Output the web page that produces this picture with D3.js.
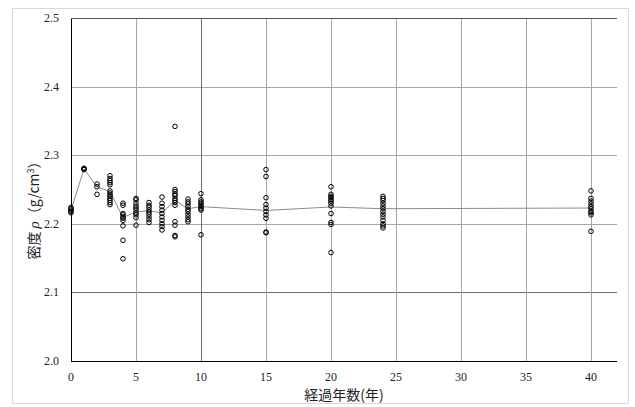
<!DOCTYPE html>
<html>
<head>
<meta charset="utf-8">
<script src="https://cdn.jsdelivr.net/npm/d3@7"></script>
<style>
  body { margin: 0; background: #fff; }
  .tick-label { font-family: "Liberation Serif", serif; font-size: 12px; fill: #222; }
  .axis-title { font-family: "Noto Sans CJK JP", sans-serif; font-size: 14px; fill: #222; }
</style>
</head>
<body>
<svg id="chart" width="635" height="407"></svg>
<script>
// Data
const groupYears = [0, 1, 2, 3, 4, 5, 6, 7, 8, 9, 10, 15, 20, 24, 40];
const groupDensities = [
  [2.224, 2.222, 2.220, 2.218, 2.216],
  [2.281, 2.280, 2.279],
  [2.258, 2.254, 2.243],
  [2.270, 2.266, 2.263, 2.260, 2.257, 2.248, 2.245, 2.242, 2.240, 2.237, 2.234, 2.231, 2.228],
  [2.230, 2.227, 2.215, 2.213, 2.210, 2.208, 2.205, 2.197, 2.176, 2.149],
  [2.237, 2.235, 2.230, 2.226, 2.223, 2.220, 2.216, 2.213, 2.209, 2.198],
  [2.231, 2.227, 2.224, 2.220, 2.217, 2.214, 2.210, 2.206, 2.202],
  [2.239, 2.230, 2.225, 2.220, 2.215, 2.210, 2.205, 2.200, 2.196, 2.191],
  [2.342, 2.250, 2.247, 2.243, 2.241, 2.237, 2.234, 2.231, 2.227, 2.203, 2.198, 2.183, 2.181],
  [2.236, 2.232, 2.229, 2.225, 2.221, 2.218, 2.214, 2.210, 2.206, 2.203],
  [2.244, 2.235, 2.232, 2.230, 2.227, 2.225, 2.222, 2.220, 2.184],
  [2.279, 2.269, 2.238, 2.228, 2.223, 2.218, 2.213, 2.208, 2.188, 2.187],
  [2.254, 2.243, 2.240, 2.238, 2.235, 2.233, 2.230, 2.226, 2.215, 2.202, 2.199, 2.158],
  [2.240, 2.237, 2.234, 2.230, 2.226, 2.222, 2.218, 2.214, 2.210, 2.205, 2.200, 2.197, 2.194],
  [2.248, 2.237, 2.233, 2.229, 2.225, 2.222, 2.218, 2.216, 2.213, 2.189]
];
// average line
const meanDensity = [2.220, 2.280, 2.254, 2.247, 2.209, 2.2175, 2.219, 2.216, 2.234, 2.222, 2.225, 2.2195, 2.2245, 2.222, 2.223];

const xTicks = [0, 5, 10, 15, 20, 25, 30, 35, 40];
const yTicks = [2.0, 2.1, 2.2, 2.3, 2.4, 2.5];

//Layout
const svg = d3.select('#chart');
const L = 71, R = 617, T = 18, B = 361;

const x = d3.scaleLinear().domain([0, 42]).range([L, R]);
const y = d3.scaleLinear().domain([2.0, 2.5]).range([B, T]);

// outer chart border
svg.append('rect')
  .attr('x', 12.5).attr('y', 8.5).attr('width', 616).attr('height', 395)
  .attr('fill', '#fff').attr('stroke', '#d9d9d9');

// gridlines (the 10-year and 2.1 lines look a bit darker in the source)
const grid = svg.append('g');
grid.selectAll('line.h')
  .data(yTicks.filter(d => d > 2.0 && d < 2.5))
  .join('line')
  .attr('x1', L).attr('x2', R)
  .attr('y1', d => Math.round(y(d)) + 0.5).attr('y2', d => Math.round(y(d)) + 0.5)
  .attr('stroke', d => d === 2.1 ? '#6e6e6e' : '#a6a6a6').attr('stroke-width', 1);
grid.selectAll('line.v')
  .data(xTicks.filter(d => d > 0))
  .join('line')
  .attr('y1', T).attr('y2', B)
  .attr('x1', d => Math.round(x(d)) + 0.5).attr('x2', d => Math.round(x(d)) + 0.5)
  .attr('stroke', d => d === 10 ? '#6e6e6e' : '#a6a6a6').attr('stroke-width', 1);

// axes frame
svg.append('line').attr('x1', L + 0.5).attr('x2', L + 0.5).attr('y1', T).attr('y2', B)
  .attr('stroke', '#000');
svg.append('line').attr('x1', L).attr('x2', R).attr('y1', B + 0.5).attr('y2', B + 0.5)
  .attr('stroke', '#000');
svg.append('line').attr('x1', L).attr('x2', R).attr('y1', T + 0.5).attr('y2', T + 0.5)
  .attr('stroke', '#555');

// tick labels
svg.append('g').selectAll('text')
  .data(yTicks)
  .join('text')
  .attr('class', 'tick-label')
  .attr('x', 59).attr('y', d => y(d) + 4)
  .attr('text-anchor', 'end')
  .text(d => d.toFixed(1));

svg.append('g').selectAll('text')
  .data(xTicks)
  .join('text')
  .attr('class', 'tick-label')
  .attr('x', d => x(d)).attr('y', 381)
  .attr('text-anchor', 'middle')
  .text(d => d);

// average line
const line = d3.line().x((d, i) => x(groupYears[i])).y(d => y(d));
svg.append('path')
  .datum(meanDensity)
  .attr('d', line)
  .attr('fill', 'none')
  .attr('stroke', '#8c8c8c')
  .attr('stroke-width', 1);

// points
const pts = groupYears.flatMap((yr, i) => groupDensities[i].map(v => ({ yr, v })));
svg.append('g').selectAll('circle')
  .data(pts)
  .join('circle')
  .attr('cx', d => x(d.yr)).attr('cy', d => y(d.v))
  .attr('r', 2.3)
  .attr('fill', 'none')
  .attr('stroke', '#000')
  .attr('stroke-width', 1);

// axis titles
svg.append('text')
  .attr('class', 'axis-title')
  .attr('x', (L + R) / 2).attr('y', 400)
  .attr('text-anchor', 'middle')
  .text('経過年数(年)');

const yt = svg.append('text')
  .attr('class', 'axis-title')
  .attr('text-anchor', 'middle')
  .attr('transform', 'translate(39,207) rotate(-90)');
yt.append('tspan').text('密度 ');
yt.append('tspan').attr('font-family', 'Liberation Serif').attr('font-style', 'italic').attr('font-size', 15).text('ρ');
yt.append('tspan').text('（g/cm');
yt.append('tspan').attr('font-size', 9).attr('dy', -5).text('3');
yt.append('tspan').attr('dy', 5).text('）');
</script>
</body>
</html>
